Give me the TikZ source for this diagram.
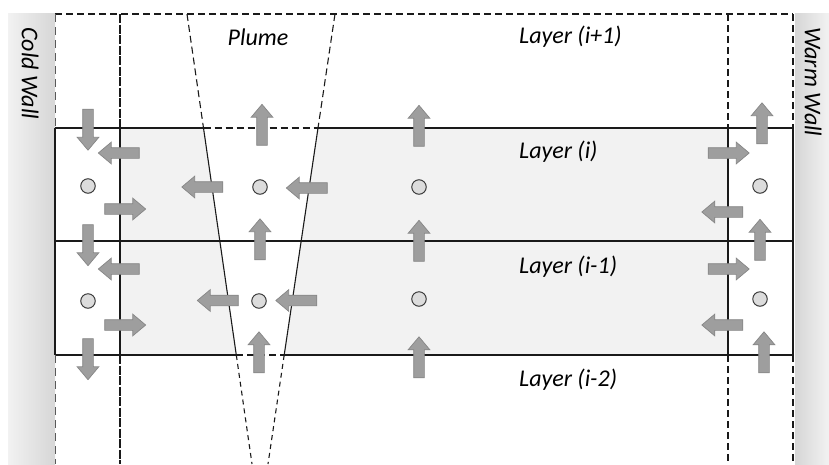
\documentclass[tikz,border=0pt]{standalone}
\usepackage{fontspec}
\setmainfont{Carlito}
\usetikzlibrary{shapes.arrows}

\definecolor{layerfill}{HTML}{F2F2F2}
\definecolor{arrowfill}{HTML}{9E9E9E}
\definecolor{arrowedge}{HTML}{868686}
\definecolor{dotfill}{HTML}{DCDCDC}
\definecolor{dotedge}{HTML}{3A3A3A}
\definecolor{wallin}{HTML}{D6D6D6}
\definecolor{wallout}{HTML}{F2F2F2}
\definecolor{linecol}{HTML}{1A1A1A}

\begin{document}
\begin{tikzpicture}[x=1pt,y=-1pt,
  flow/.style={single arrow, draw=arrowedge, fill=arrowfill, line width=0.7pt,
    inner sep=5pt, minimum height=41pt, minimum width=21pt,
    single arrow head extend=5.5pt, single arrow tip angle=80},
  arrowup/.style={flow, shape border rotate=90},
  arrowdown/.style={flow, shape border rotate=270},
  arrowleft/.style={flow, shape border rotate=180},
  arrowright/.style={flow},
  cellpt/.style={circle, draw=dotedge, fill=dotfill, line width=1pt,
    minimum size=14.5pt, inner sep=0pt},
  solidline/.style={draw=linecol, line width=1.1pt},
  dashline/.style={draw=linecol, line width=1.1pt, dash pattern=on 7pt off 4pt},
  densedash/.style={draw=linecol, line width=1.4pt, dash pattern=on 9pt off 1.5pt},
  walldash/.style={draw=black!65, line width=1pt, dash pattern=on 8pt off 5pt},
  lbl/.style={font=\fontsize{24}{27}\selectfont\itshape, text=black, inner sep=0pt},
]
\useasboundingbox (0,0) rectangle (829,464);

% side walls
\shade[left color=wallout, right color=wallin] (8,13) rectangle (55,464);
\shade[left color=wallin, right color=wallout] (795,13) rectangle (829,464);

% key coordinates
\coordinate (tl) at (55,14);   \coordinate (tr) at (793,14);
\coordinate (pTL) at (187,14); \coordinate (pTR) at (335,14);
\coordinate (pAL) at (203.5,128); \coordinate (pAR) at (318,128);
\coordinate (pBL) at (236.3,355); \coordinate (pBR) at (284.2,355);
\coordinate (pEL) at (252,464); \coordinate (pER) at (268,464);

% layers (i) and (i-1): shaded core, white wall cells and plume
\fill[layerfill] (55,128) rectangle (793,355);
\fill[white] (55,128) rectangle (120,355);
\fill[white] (728,128) rectangle (793,355);
\fill[white] (pAL) -- (pAR) -- (pBR) -- (pBL) -- cycle;

% horizontal layer boundaries
\draw[dashline] (tl) -- (tr);
\draw[solidline] (55,128) -- (pAL);
\draw[dashline] (pAL) -- (pAR);
\draw[solidline] (pAR) -- (793,128);
\draw[solidline] (55,241) -- (793,241);
\draw[solidline] (55,355) -- (pBL);
\draw[dashline] (pBL) -- (pBR);
\draw[solidline] (pBR) -- (793,355);

% vertical cell boundaries
\draw[walldash] (tl) -- (55,128);
\draw[solidline] (55,128) -- (55,355);
\draw[walldash] (55,355) -- (55,464);
\draw[densedash] (120,14) -- (120,128);
\draw[solidline] (120,128) -- (120,355);
\draw[densedash] (120,355) -- (120,464);
\draw[dashline] (728,14) -- (728,128);
\draw[solidline] (728,128) -- (728,355);
\draw[dashline] (728,355) -- (728,464);
\draw[dashline] (tr) -- (793,128);
\draw[solidline] (793,128) -- (793,355);
\draw[dashline] (793,355) -- (793,464);

% plume edges
\draw[dashline] (pTL) -- (pAL);
\draw[solidline] (pAL) -- (pBL);
\draw[dashline, dash pattern=on 5pt off 4pt] (pBL) -- (pEL);
\draw[dashline] (pTR) -- (pAR);
\draw[solidline] (pAR) -- (pBR);
\draw[dashline, dash pattern=on 5pt off 4pt] (pBR) -- (pER);

% labels
\node[lbl] (plume) at (258,37) {Plume};
\node[lbl, anchor=west] (lay1) at (519,37) {Layer (i+1)};
\node[lbl, anchor=west] (lay2) at (519,152) {Layer (i)};
\node[lbl, anchor=west] (lay3) at (519,267) {Layer (i-1)};
\node[lbl, anchor=west] (lay4) at (519,380) {Layer (i-2)};
\node[lbl, rotate=-90, anchor=west] (cold) at (30,27) {Cold Wall};
\node[lbl, rotate=-90, anchor=west] (warm) at (813,27) {Warm Wall};

% cold-wall column
\node[arrowdown]  (c1) at (88,126.5) {};
\node[arrowleft]  (c2) at (122,153) {};
\node[cellpt]     (c3) at (88,186) {};
\node[arrowright] (c4) at (122,209) {};
\node[arrowdown]  (c5) at (88,242) {};
\node[arrowleft]  (c6) at (122,269) {};
\node[cellpt]     (c7) at (88,301) {};
\node[arrowright] (c8) at (122,325) {};
\node[arrowdown]  (c9) at (88,356) {};

% plume column
\node[arrowup]    (p1) at (262,128) {};
\node[arrowleft]  (p2) at (205.5,187) {};
\node[cellpt]     (p3) at (260,187) {};
\node[arrowleft]  (p4) at (310,188) {};
\node[arrowup]    (p5) at (260,242.5) {};
\node[arrowleft]  (p6) at (221,300.5) {};
\node[cellpt]     (p7) at (259,301) {};
\node[arrowleft]  (p8) at (299.5,300.5) {};
\node[arrowup]    (p9) at (259,355.5) {};

% core column
\node[arrowup]    (m1) at (419,129) {};
\node[cellpt]     (m2) at (419,187) {};
\node[arrowup]    (m3) at (419,244) {};
\node[cellpt]     (m4) at (419,299) {};
\node[arrowup]    (m5) at (419,360.5) {};

% warm-wall column
\node[arrowup]    (w1) at (762,126.5) {};
\node[arrowright] (w2) at (725.5,153) {};
\node[cellpt]     (w3) at (760,186) {};
\node[arrowleft]  (w4) at (725.5,212) {};
\node[arrowup]    (w5) at (760,243) {};
\node[arrowright] (w6) at (725.5,269) {};
\node[cellpt]     (w7) at (760,299) {};
\node[arrowleft]  (w8) at (725.5,325) {};
\node[arrowup]    (w9) at (764,355.5) {};
\end{tikzpicture}
\end{document}
